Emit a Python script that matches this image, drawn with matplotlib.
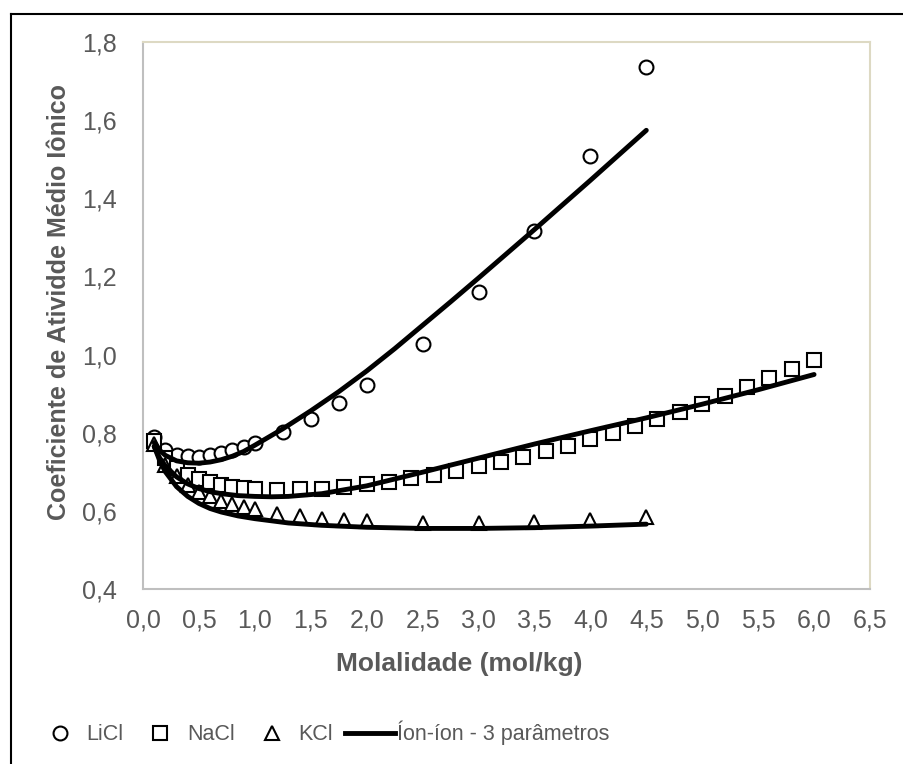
import matplotlib
matplotlib.use('Agg')
import matplotlib.pyplot as plt
from matplotlib.lines import Line2D

# experimental data
licl_m = [0.1, 0.2, 0.3, 0.4, 0.5, 0.6, 0.7, 0.8, 0.9, 1.0, 1.25, 1.5, 1.75, 2.0, 2.5, 3.0, 3.5, 4.0, 4.5]
licl_g = [0.790, 0.757, 0.744, 0.740, 0.739, 0.743, 0.748, 0.755, 0.764, 0.774, 0.801, 0.836, 0.877, 0.921,
          1.028, 1.160, 1.317, 1.508, 1.736]

nacl_m = [0.1, 0.2, 0.3, 0.4, 0.5, 0.6, 0.7, 0.8, 0.9, 1.0, 1.2, 1.4, 1.6, 1.8, 2.0, 2.2, 2.4, 2.6, 2.8, 3.0,
          3.2, 3.4, 3.6, 3.8, 4.0, 4.2, 4.4, 4.6, 4.8, 5.0, 5.2, 5.4, 5.6, 5.8, 6.0]
nacl_g = [0.778, 0.735, 0.710, 0.693, 0.681, 0.673, 0.667, 0.662, 0.659, 0.657, 0.654, 0.655, 0.657, 0.662,
          0.668, 0.675, 0.683, 0.692, 0.702, 0.714, 0.726, 0.739, 0.753, 0.767, 0.783, 0.799, 0.816, 0.834,
          0.852, 0.874, 0.894, 0.916, 0.939, 0.962, 0.986]

kcl_m = [0.1, 0.2, 0.3, 0.4, 0.5, 0.6, 0.7, 0.8, 0.9, 1.0, 1.2, 1.4, 1.6, 1.8, 2.0, 2.5, 3.0, 3.5, 4.0, 4.5]
kcl_g = [0.770, 0.718, 0.688, 0.666, 0.649, 0.637, 0.626, 0.618, 0.610, 0.604, 0.593, 0.586, 0.580, 0.576,
         0.573, 0.569, 0.569, 0.572, 0.577, 0.583]

# model curves (ion-ion, 3 parameters)
licl_fit_m = [0.1, 0.15, 0.2, 0.3, 0.4, 0.5, 0.6, 0.7, 0.8, 0.9, 1.0, 1.25, 1.5, 1.75, 2.0, 2.25, 2.5, 2.75,
              3.0, 3.25, 3.5, 3.75, 4.0, 4.25, 4.5]
licl_fit_g = [0.775, 0.755, 0.742, 0.728, 0.723, 0.722, 0.725, 0.731, 0.740, 0.752, 0.768, 0.810, 0.856,
              0.905, 0.958, 1.015, 1.075, 1.135, 1.196, 1.258, 1.320, 1.383, 1.446, 1.510, 1.574]

nacl_fit_m = [0.1, 0.15, 0.2, 0.3, 0.4, 0.5, 0.6, 0.7, 0.85, 1.0, 1.15, 1.3, 1.6, 2.0, 2.5, 3.0, 3.5, 4.0,
              4.5, 5.0, 5.5, 6.0]
nacl_fit_g = [0.765, 0.735, 0.715, 0.687, 0.669, 0.657, 0.649, 0.644, 0.639, 0.637, 0.636, 0.637, 0.644,
              0.664, 0.699, 0.735, 0.771, 0.805, 0.838, 0.873, 0.910, 0.949]

kcl_fit_m = [0.1, 0.15, 0.2, 0.3, 0.4, 0.5, 0.6, 0.7, 0.85, 1.0, 1.3, 1.6, 2.0, 2.5, 3.0, 3.5, 4.0, 4.5]
kcl_fit_g = [0.765, 0.728, 0.700, 0.662, 0.637, 0.619, 0.606, 0.597, 0.587, 0.580, 0.569, 0.563, 0.558,
             0.555, 0.555, 0.557, 0.561, 0.566]

plt.rcParams['font.family'] = ['Liberation Sans', 'DejaVu Sans']

fig = plt.figure(figsize=(9.04, 7.64), dpi=100)
ax = fig.add_axes([143/904, 1 - 589/764, (870-143)/904, (589-42)/764])

mk = dict(linestyle='none', markerfacecolor='white', markeredgecolor='black', markersize=10, markeredgewidth=1.5)
ax.plot(licl_m, licl_g, marker='o', **mk, zorder=3)
ax.plot(nacl_m, nacl_g, marker='s', **mk, zorder=3)
ax.plot(kcl_m, kcl_g, marker='^', **mk, zorder=3)
for xs, ys in [(licl_fit_m, licl_fit_g), (nacl_fit_m, nacl_fit_g), (kcl_fit_m, kcl_fit_g)]:
    ax.plot(xs, ys, color='black', lw=3.5, solid_capstyle='round', solid_joinstyle='round', zorder=4)

ax.set_xlim(0, 6.5)
ax.set_ylim(0.4, 1.8)
xt = [i * 0.5 for i in range(14)]
yt = [0.4 + i * 0.2 for i in range(8)]
ax.set_xticks(xt)
ax.set_yticks(yt)
ax.set_xticklabels([f'{v:.1f}'.replace('.', ',') for v in xt])
ax.set_yticklabels([f'{v:.1f}'.replace('.', ',') for v in yt])
ax.tick_params(length=0, labelsize=18, labelcolor='#595959')
ax.tick_params(axis='x', pad=14)
ax.tick_params(axis='y', pad=19)

for s in ['left', 'bottom']:
    ax.spines[s].set_color('#BFBFBF')
    ax.spines[s].set_linewidth(1.5)
for s in ['top', 'right']:
    ax.spines[s].set_color('#DDD9C3')
    ax.spines[s].set_linewidth(1.5)

ax.set_xlabel('Molalidade (mol/kg)', fontsize=19, fontweight='bold', color='#595959')
ax.xaxis.set_label_coords((459-143)/727, -(652-589)/547)
ax.set_ylabel('Coeficiente de Atividde Médio Iônico', fontsize=18, fontweight='bold', color='#595959')
ax.yaxis.set_label_coords(-(143-71)/727, (589-302)/547)

handles = [
    Line2D([], [], marker='o', **mk),
    Line2D([], [], marker='s', **mk),
    Line2D([], [], marker='^', **mk),
    Line2D([], [], color='black', lw=3.5),
]
labels = ['LiCl', 'NaCl', 'KCl', 'Íon-íon - 3 parâmetros']
leg = fig.legend(handles, labels, loc='center left', bbox_to_anchor=(35/904, 1 - 733/764), ncol=4,
                 frameon=False, fontsize=15.5, handlelength=2.3, handletextpad=0.1, columnspacing=0.55,
                 borderaxespad=0, borderpad=0)
for t in leg.get_texts():
    t.set_color('#595959')

# outer chart frame (cut off at right and bottom)
fig.add_artist(Line2D([10.5/904, 1.0], [1 - 13.5/764, 1 - 13.5/764], color='black', lw=1.5, transform=fig.transFigure))
fig.add_artist(Line2D([10.5/904, 10.5/904], [0, 1 - 13.5/764], color='black', lw=1.5, transform=fig.transFigure))

fig.savefig('out.png', dpi=100)
